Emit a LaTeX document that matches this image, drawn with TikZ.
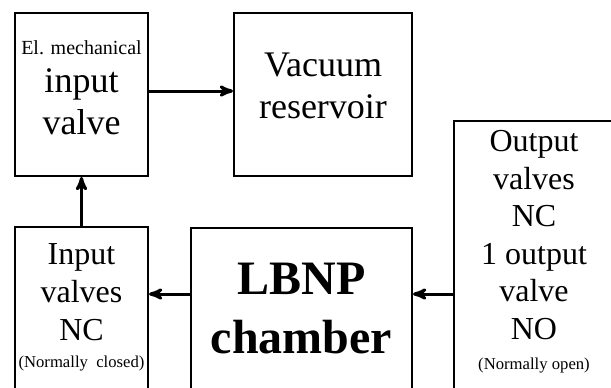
\documentclass[tikz,border=0pt]{standalone}
\usepackage{fontspec}
\setmainfont{Liberation Serif}
\usetikzlibrary{arrows,positioning}
\tikzset{
    %Define standard arrow tip
    >=stealth',
    %Define style for boxes
    block/.style={
           rectangle,
           draw=black, line width=1.5pt,
           inner sep=0pt,
           anchor=north west,
           align=center},
    % Define arrow style
    pil/.style={
           ->,
           line width=2.25pt}
}

\begin{document}
\begin{tikzpicture}[x=0.75pt,y=-0.75pt]
\useasboundingbox (0,0) rectangle (611,387);

 %nodes
\node[block, minimum width=99.75pt, text height=90.75pt, text depth=31.5pt,
      font=\fontsize{27}{31.5}\selectfont] (mech) at (14,12)
      {{\fontsize{15}{18}\selectfont El. mechanical}\\[-3pt] input\\ valve};
\node[block, minimum width=133.5pt, text height=78.75pt, text depth=43.5pt,
      font=\fontsize{27}{31.5}\selectfont] (vac) at (233,12)
      {Vacuum\\ reservoir};
\node[block, minimum width=99.75pt, text height=105pt, text depth=18pt,
      font=\fontsize{24}{28.5}\selectfont] (inv) at (14,226)
      {Input\\ valves\\ NC\\[-8.25pt] {\fontsize{12.5}{15}\selectfont (Normally\ \ closed)}};
\node[block, minimum width=165.75pt, text height=93.75pt, text depth=28.5pt,
      font=\fontsize{36}{44.25}\selectfont\bfseries] (lbnp) at (190,227)
      {LBNP\\ chamber};
\node[block, minimum width=120pt, text height=186pt, text depth=16.5pt,
      font=\fontsize{24}{28.1}\selectfont] (outv) at (453,120)
      {Output\\ valves\\ NC\\ 1 output\\ valve\\ NO\\[-5.6pt] {\fontsize{12.5}{15}\selectfont (Normally open)}};

 %arrows
\draw[pil] ([yshift=2.6pt]mech.east) -- ([yshift=2.6pt]vac.west);
\draw[pil] (inv.north) -- (mech.south);
\draw[pil] ([yshift=11.6pt]lbnp.west) -- ([yshift=11.6pt]lbnp.west -| inv.east);
\draw[pil] ([yshift=11.6pt]lbnp.east -| outv.west) -- ([yshift=11.6pt]lbnp.east);

\end{tikzpicture}
\end{document}
